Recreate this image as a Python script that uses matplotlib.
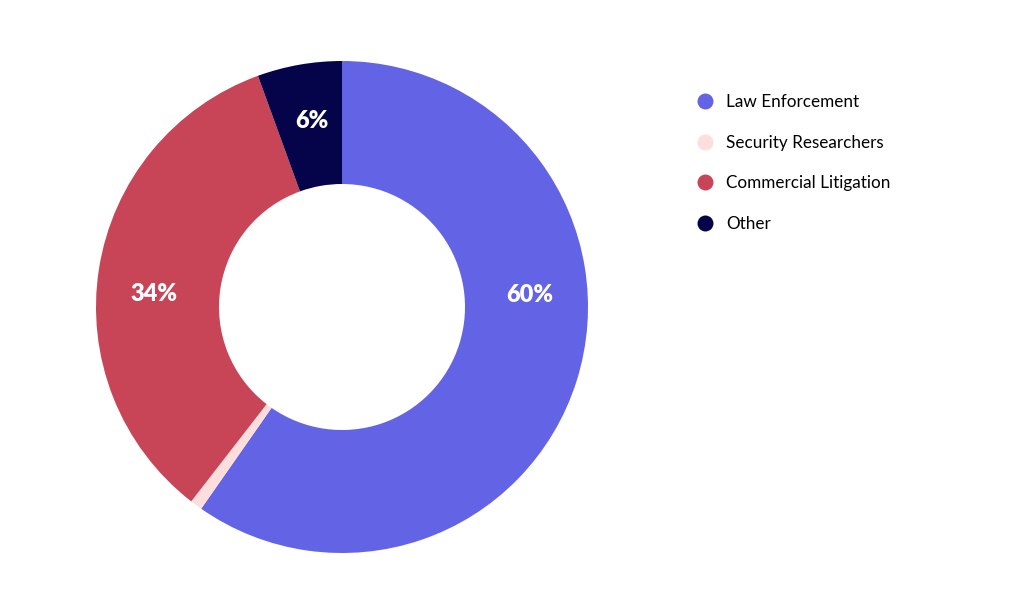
import matplotlib

matplotlib.use("Agg")
import numpy as np
from matplotlib import pyplot as plt
from matplotlib.lines import Line2D

plt.rc("font", family=["Lato", "DejaVu Sans"])

categories = ["Law Enforcement", "Security Researchers", "Commercial Litigation", "Other"]
shares = [59.7, 0.8, 33.95, 5.55]
pct_labels = ["60%", "", "34%", "6%"]
colors = ["#6363E6", "#FDDEDC", "#C84457", "#05044A"]

# where each percentage label sits on the ring (degrees, counter-clockwise from east)
label_angles = [3.6, None, 176.0, 99.3]

fig = plt.figure(figsize=(10.24, 6.14), dpi=100)
ax = fig.add_axes([(342 - 250) / 1024, (307 - 250) / 614, 500 / 1024, 500 / 614])

R = 246 / 250
wedges, _ = ax.pie(
    shares,
    colors=colors,
    startangle=90,
    counterclock=False,
    radius=R,
    wedgeprops={"width": R / 2, "linewidth": 0},
)
ax.set_xlim(-1, 1)
ax.set_ylim(-1, 1)
ax.set_aspect("equal")
ax.axis("off")

for lab, a in zip(pct_labels, label_angles):
    if not lab:
        continue
    r = R * 0.765
    ax.text(
        r * np.cos(np.deg2rad(a)),
        r * np.sin(np.deg2rad(a)),
        lab,
        color="white",
        fontsize=17,
        fontweight="heavy",
        ha="center",
        va="center",
    )

handles = [
    Line2D([], [], marker="o", linestyle="", markersize=11.5, color=c, markeredgewidth=0)
    for c in colors
]
fig.legend(
    handles,
    categories,
    loc="upper left",
    bbox_to_anchor=(690 / 1024, 1 - 87 / 614),
    frameon=False,
    fontsize=12.3,
    labelspacing=1.45,
    handletextpad=0.7,
    handlelength=1.0,
    borderaxespad=0,
)

fig.savefig("out.png", dpi=100)
